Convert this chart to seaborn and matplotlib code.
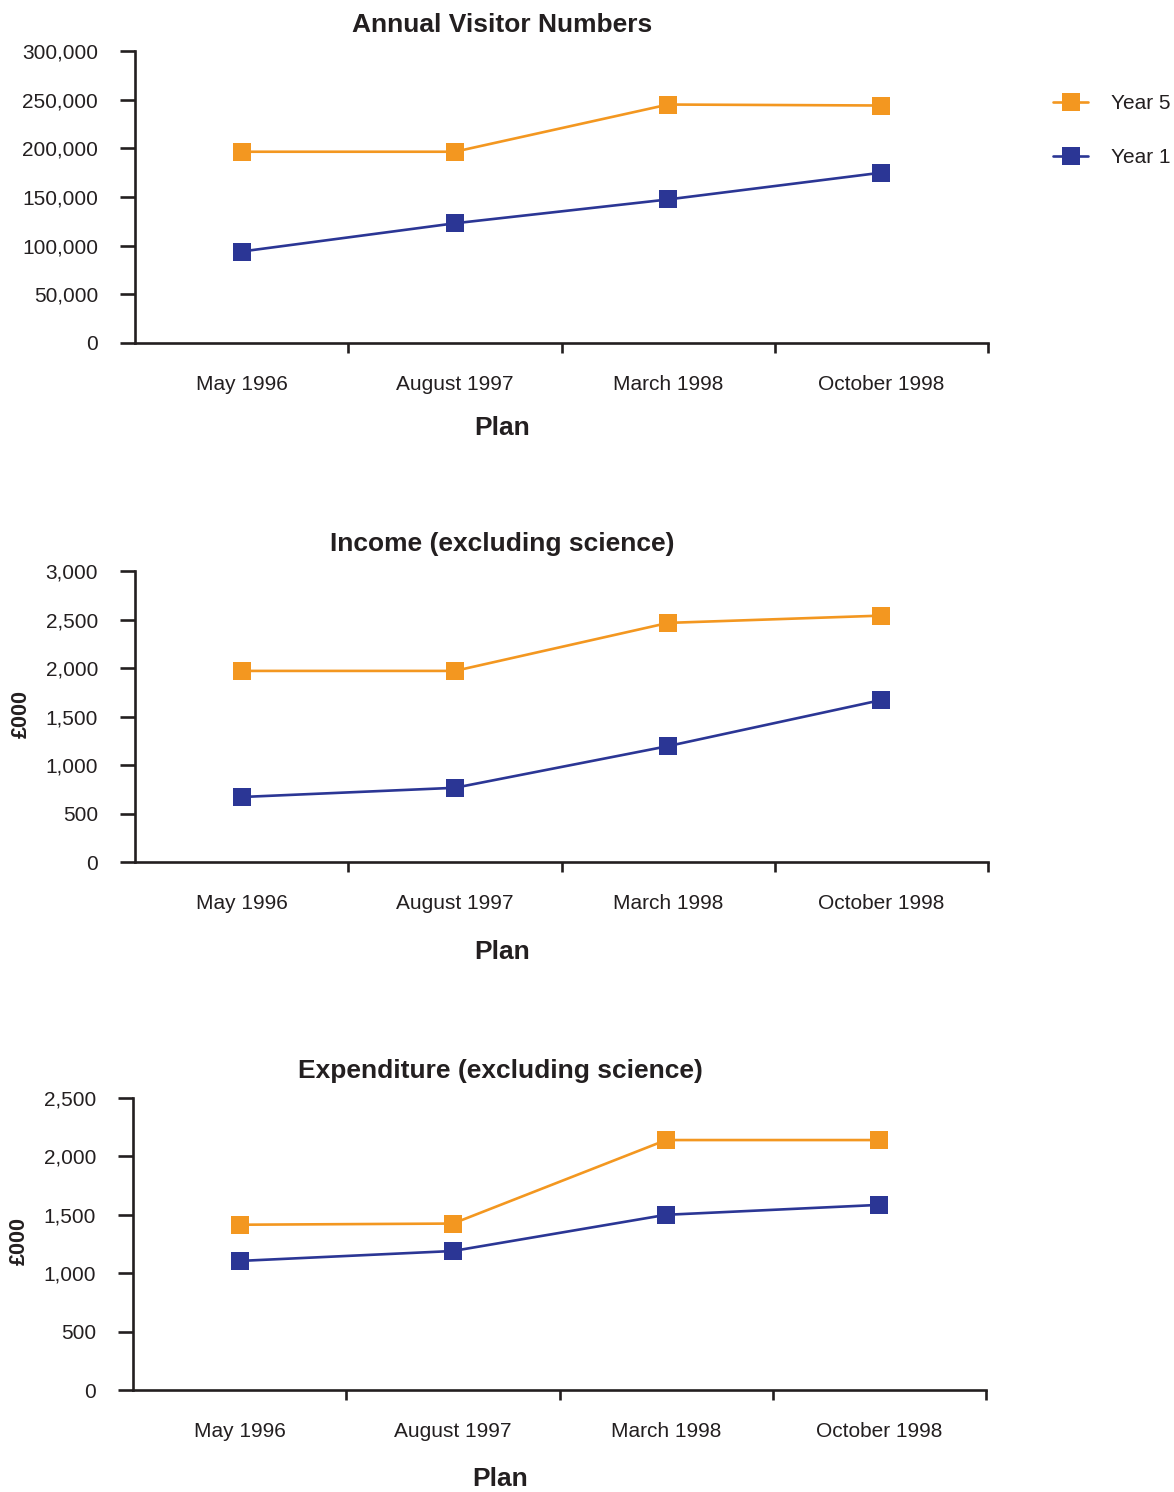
import matplotlib
matplotlib.use('Agg')
import matplotlib.pyplot as plt
import seaborn as sns
import pandas as pd
from matplotlib.ticker import FuncFormatter, FixedLocator
from matplotlib.lines import Line2D

# data
plans = ['May 1996', 'August 1997', 'March 1998', 'October 1998']
series_names = ['Year 5', 'Year 1']

visitors_year5 = [196500, 196500, 245000, 244000]
visitors_year1 = [94000, 123000, 147500, 175000]
income_year5 = [1970, 1970, 2465, 2540]
income_year1 = [670, 765, 1195, 1670]
expend_year5 = [1415, 1425, 2140, 2140]
expend_year1 = [1105, 1190, 1500, 1585]

titles = ['Annual Visitor Numbers', 'Income (excluding science)', 'Expenditure (excluding science)']
y_labels = ['', '£000', '£000']
y_max = [300000, 3000, 2500]
y_step = [50000, 500, 500]

ORANGE = '#F39720'
BLUE = '#2B3695'
INK = '#231F20'

sns.set_theme(style='white')
plt.rcParams['font.family'] = ['Liberation Sans', 'DejaVu Sans']
plt.rcParams['text.color'] = INK
plt.rcParams['axes.labelcolor'] = INK
plt.rcParams['xtick.color'] = INK
plt.rcParams['ytick.color'] = INK

W, H = 1174, 1492
fig = plt.figure(figsize=(W / 100, H / 100), dpi=100)

# axes boxes in pixels: left, right, top, bottom
boxes = [(135, 988, 51, 343), (135, 988, 571, 862), (133, 986, 1098, 1390)]
title_pos = [(502, 25), (502, 544), (500, 1071)]
plan_pos = [(502, 428), (502, 952), (500, 1479)]
ylab_pos = [None, (21, 714), (19, 1241)]

data = [(visitors_year5, visitors_year1), (income_year5, income_year1), (expend_year5, expend_year1)]

def px(x, y):
    return x / W, 1 - y / H

for i, (y5, y1) in enumerate(data):
    l, r, t, b = boxes[i]
    ax = fig.add_axes([l / W, 1 - b / H, (r - l) / W, (b - t) / H])
    df = pd.DataFrame({
        'Plan': plans * 2,
        'Value': list(y5) + list(y1),
        'Series': ['Year 5'] * 4 + ['Year 1'] * 4,
    })
    sns.lineplot(data=df, x='Plan', y='Value', hue='Series', hue_order=series_names,
                 palette=[ORANGE, BLUE], marker='s', markersize=13, markeredgewidth=0,
                 linewidth=1.9, legend=False, ax=ax, sort=False)
    ax.set_xlim(-0.5, 3.5)
    ax.set_ylim(0, y_max[i])
    ax.set_xlabel('')
    ax.set_ylabel('')
    for s in ['top', 'right']:
        ax.spines[s].set_visible(False)
    for s in ['left', 'bottom']:
        ax.spines[s].set_linewidth(1.9)
        ax.spines[s].set_color(INK)
        ax.spines[s].set_zorder(1)
    yt = list(range(0, y_max[i] + 1, y_step[i]))
    ax.set_yticks(yt)
    ax.yaxis.set_major_formatter(FuncFormatter(lambda v, p: f'{int(v):,}'))
    ax.tick_params(axis='y', left=True, length=11, width=1.9, direction='out', pad=15.5, labelsize=15)
    ax.xaxis.set_major_locator(FixedLocator([0.5, 1.5, 2.5, 3.5]))
    ax.xaxis.set_minor_locator(FixedLocator([0, 1, 2, 3]))
    ax.set_xticklabels([], minor=False)
    ax.set_xticklabels(plans, minor=True)
    ax.tick_params(axis='x', which='major', bottom=True, length=7.5, width=1.9, direction='out')
    ax.tick_params(axis='x', which='minor', bottom=True, length=0, pad=23, labelsize=15)
    for line in ax.lines:
        line.set_clip_on(False)
        line.set_zorder(3)

    tx, ty = title_pos[i]
    fig.text(*px(tx, ty), titles[i], ha='center', va='center', fontsize=19, fontweight='bold')
    tx, ty = plan_pos[i]
    fig.text(*px(tx, ty), 'Plan', ha='center', va='center', fontsize=19, fontweight='bold')
    if ylab_pos[i]:
        tx, ty = ylab_pos[i]
        fig.text(*px(tx, ty), y_labels[i], ha='center', va='center', rotation=90,
                 fontsize=15.5, fontweight='bold')

handles = [Line2D([], [], color=c, marker='s', markersize=13, markeredgewidth=0, linewidth=1.9)
           for c in [ORANGE, BLUE]]
fig.legend(handles, series_names, loc='upper left', bbox_to_anchor=px(1053, 94),
           frameon=False, fontsize=15, handlelength=1.7, handletextpad=1.1,
           labelspacing=1.7, borderaxespad=0, borderpad=0)

fig.savefig('out.png', dpi=100)
